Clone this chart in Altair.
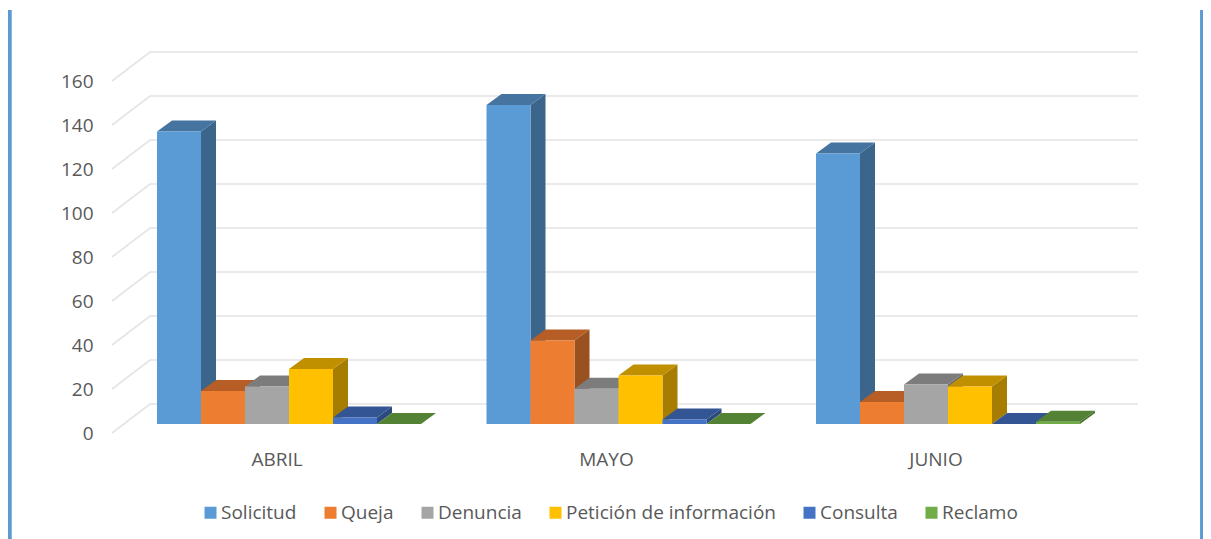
import altair as alt
import pandas as pd

MESES = ["ABRIL", "MAYO", "JUNIO"]
SERIES = ["Solicitud", "Queja", "Denuncia", "Petición de información", "Consulta", "Reclamo"]
SOLICITUD = [133, 145, 123]
QUEJA = [15, 38, 10]
DENUNCIA = [17, 16, 18]
PETICION = [25, 22, 17]
CONSULTA = [3, 2, 0]
RECLAMO = [0, 0, 1]
TICKS = [0, 20, 40, 60, 80, 100, 120, 140, 160]

FRONT = ["#5B9BD5", "#ED7D31", "#A5A5A5", "#FFC000", "#4472C4", "#70AD47"]
TOP = ["#44749F", "#B65E25", "#7C7C7C", "#C09000", "#335593", "#548235"]
SIDE = ["#3B658A", "#9A5120", "#6B6B6B", "#A67D00", "#2C4A80", "#49702E"]

W, H = 1195, 531
PX_U = 329.5          # pixels per month group
PX_V = 2.2            # pixels per value unit
BAR = 44 / PX_U       # bar width in x units
DX, DV = 15 / PX_U, 5.0               # bar depth
WALL_DX, WALL_DV = 38 / PX_U, 13.18   # wall depth
FLOOR_V = -4.09       # value of the front edge of the floor

x_scale = alt.Scale(domain=[-149 / PX_U, (8 + W - 157) / PX_U], nice=False, zero=False)
y_scale = alt.Scale(domain=[(424 - 8 - H) / PX_V, (424 - 8) / PX_V], nice=False, zero=False)

allvals = [SOLICITUD, QUEJA, DENUNCIA, PETICION, CONSULTA, RECLAMO]
front, side, top = [], [], []
for s, name in enumerate(SERIES):
    for g, mes in enumerate(MESES):
        v = allvals[s][g]
        x0 = g + s * BAR
        x1 = x0 + BAR
        key = f"{mes}-{name}"
        front.append(dict(serie=name, x=x0, x2=x1, y=0, y2=v))
        side.append(dict(key=key, serie=name, x=x1, y=0, y2=v))
        side.append(dict(key=key, serie=name, x=x1 + DX, y=DV, y2=v + DV))
        top.append(dict(key=key, serie=name, x=x0, x2=x1, y=v))
        top.append(dict(key=key, serie=name, x=x0 + DX, x2=x1 + DX, y=v + DV))

grid = []
x_front = -45 / PX_U
x_back = x_front + WALL_DX
x_right = (1138 - 157) / PX_U
for t in TICKS:
    grid.append(dict(t=t, i=0, x=x_front, y=t + FLOOR_V))
    grid.append(dict(t=t, i=1, x=x_back, y=t + FLOOR_V + WALL_DV))
    grid.append(dict(t=t, i=2, x=x_right, y=t + FLOOR_V + WALL_DV))

X = lambda f="x": alt.X(f"{f}:Q", scale=x_scale, axis=None)
FONT = "Open Sans"
TEXT = "#595959"
FS = 19

Y_AXIS = alt.Axis(
    values=TICKS, orient="left", offset=-85, title=None, domain=False, ticks=False,
    grid=False, labelPadding=0, labelOffset=9, labelFont=FONT, labelFontSize=FS,
    labelColor=TEXT, labelFlush=False, labelOverlap=False,
)
Y = lambda: alt.Y("y:Q", scale=y_scale, axis=Y_AXIS)

grid_layer = alt.Chart(pd.DataFrame(grid)).mark_line(color="#E4E4E4", strokeWidth=1.6).encode(
    x=X(),
    y=Y(),
    detail="t:N",
    order="i:Q",
)

side_layer = alt.Chart(pd.DataFrame(side)).mark_area(orient="vertical").encode(
    x=X(),
    y=Y(),
    y2="y2:Q",
    detail="key:N",
    color=alt.Color("serie:N", scale=alt.Scale(domain=SERIES, range=SIDE), legend=None),
)

top_layer = alt.Chart(pd.DataFrame(top)).mark_area(orient="horizontal").encode(
    x=X(),
    x2="x2:Q",
    y=Y(),
    detail="key:N",
    color=alt.Color("serie:N", scale=alt.Scale(domain=SERIES, range=TOP), legend=None),
)

front_layer = alt.Chart(pd.DataFrame(front)).mark_rect().encode(
    x=X(),
    x2="x2:Q",
    y=Y(),
    y2="y2:Q",
    color=alt.Color(
        "serie:N",
        scale=alt.Scale(domain=SERIES, range=FRONT),
        sort=SERIES,
        legend=alt.Legend(
            title=None, orient="none", direction="horizontal", columns=6,
            legendX=193, legendY=495, symbolType="square", symbolSize=144,
            symbolStrokeWidth=0, labelFont=FONT, labelFontSize=FS, labelColor=TEXT,
            labelOffset=1, columnPadding=24, labelLimit=300,
        ),
    ),
)

label_df = pd.DataFrame({"mes": MESES, "x": [g + 120 / PX_U for g in range(3)], "y": [-16.2] * 3})
label_layer = alt.Chart(label_df).mark_text(
    font=FONT, fontSize=FS, color=TEXT, align="center", baseline="middle"
).encode(x=X(), y=Y(), text="mes:N")

border = alt.Chart(pd.DataFrame({"a": [0]}))
left = border.mark_rule(color="#5B9BD5", strokeWidth=4.7).encode(
    x=alt.value(1.4), y=alt.value(2), y2=alt.value(H))
right = border.mark_rule(color="#5B9BD5", strokeWidth=4.7).encode(
    x=alt.value(1194.4), y=alt.value(2), y2=alt.value(H))

chart = (
    alt.layer(grid_layer, side_layer, top_layer, front_layer, label_layer, left, right)
    .resolve_scale(color="independent")
    .properties(width=W, height=H, padding=0, autosize=alt.AutoSizeParams(type="none"), background="white")
    .configure_view(stroke=None)
)

chart.save("out.html", embed_options={"renderer": "svg", "actions": False})
